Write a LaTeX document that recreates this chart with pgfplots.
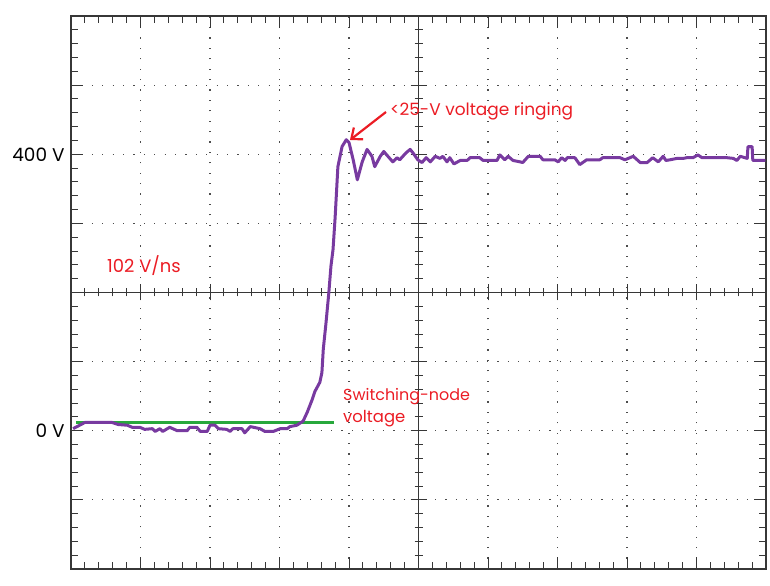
\documentclass[border=0pt]{standalone}
\usepackage{fontspec}
\setmainfont{Poppins}
\usepackage{pgfplots}
\pgfplotsset{compat=1.18}
\usetikzlibrary{arrows.meta}
\definecolor{trace}{RGB}{120,58,160}
\definecolor{grn}{RGB}{40,168,60}
\definecolor{annot}{RGB}{235,28,36}
\definecolor{framec}{RGB}{55,55,55}
\begin{document}
\begin{tikzpicture}[x=1bp,y=1bp]
\path (0,0) rectangle (770,586);
\begin{axis}[
  at={(71bp,17bp)}, anchor=south west,
  scale only axis, width=695bp, height=553bp,
  xmin=0, xmax=10, ymin=-200, ymax=600,
  xtick={0,...,10}, ytick={-200,-100,...,600},
  minor x tick num=4, minor y tick num=4,
  xticklabels={}, yticklabels={{},{},0 V,{},{},{},400 V,{},{}},
  tick align=inside,
  major tick length=12bp, minor tick length=7bp,
  axis line style={framec, line width=2.2bp},
  every tick/.style={framec, line width=0.9bp},
  grid=major,
  major grid style={black!70, line width=1.1bp, dash pattern=on 1.1bp off 9.3bp},
  yticklabel style={font=\fontsize{18.5}{21}\selectfont, text=black, xshift=-3bp},
]
% centre graticule lines
\draw[framec, line width=1.4bp] (axis cs:5,-200) -- (axis cs:5,600);
\draw[framec, line width=1.4bp] (axis cs:0,200) -- (axis cs:10,200);
\pgfplotsinvokeforeach{-180,-160,...,580}{
  \draw[framec, line width=0.9bp] ([xshift=-4bp]axis cs:5,#1) -- ([xshift=4bp]axis cs:5,#1);
}
\pgfplotsinvokeforeach{0.2,0.4,...,9.8}{
  \draw[framec, line width=0.9bp] ([yshift=-4bp]axis cs:#1,200) -- ([yshift=4bp]axis cs:#1,200);
}
\pgfplotsinvokeforeach{-100,0,...,500}{
  \draw[framec, line width=0.9bp] ([xshift=-8bp]axis cs:5,#1) -- ([xshift=8bp]axis cs:5,#1);
}
\pgfplotsinvokeforeach{1,2,...,9}{
  \draw[framec, line width=0.9bp] ([yshift=-8bp]axis cs:#1,200) -- ([yshift=8bp]axis cs:#1,200);
}
% reference level
\addplot[grn, line width=2.8bp] coordinates {(0.07,12) (3.78,12)};
% switching-node voltage trace
\addplot[trace, line width=3bp, line join=round] coordinates {
(0.03,3) (0.20,12) (0.53,12) (0.59,12) (0.68,9) (0.81,8) (0.88,5) (0.99,5)
(1.06,2) (1.17,3) (1.21,-1) (1.28,3) (1.32,-1) (1.42,5) (1.53,0) (1.67,0)
(1.71,5) (1.81,5) (1.86,-1) (1.96,-1) (2.00,8) (2.07,8) (2.12,3) (2.24,2)
(2.29,-1) (2.33,3) (2.46,3) (2.50,-3) (2.58,6) (2.72,3) (2.79,-1) (2.91,-1)
(3.01,3) (3.11,3) (3.15,6) (3.25,8) (3.34,14) (3.40,27) (3.47,45) (3.51,57)
(3.58,70) (3.61,84) (3.63,118) (3.67,157) (3.71,200) (3.74,238) (3.77,262)
(3.80,308) (3.84,382) (3.90,411) (3.96,421) (4.00,417) (4.06,392) (4.12,363)
(4.19,389) (4.26,407) (4.33,397) (4.37,382) (4.45,397) (4.50,404) (4.56,397)
(4.63,389) (4.69,395) (4.73,392) (4.82,402) (4.88,407) (4.92,402) (4.99,392)
(5.05,388) (5.11,395) (5.17,389) (5.24,397) (5.31,394) (5.35,397) (5.41,389)
(5.45,395) (5.51,386) (5.60,391) (5.70,391) (5.74,395) (5.88,395) (5.93,391)
(6.13,391) (6.17,399) (6.24,392) (6.29,397) (6.36,391) (6.46,389) (6.50,388)
(6.58,397) (6.75,397) (6.79,392) (6.96,392) (7.01,389) (7.06,395) (7.11,391)
(7.14,395) (7.25,395) (7.32,385) (7.42,392) (7.61,392) (7.65,395) (7.90,395)
(7.97,392) (8.09,397) (8.19,388) (8.29,388) (8.37,395) (8.45,389) (8.52,397)
(8.56,391) (8.62,392) (8.72,394) (8.81,394) (8.86,395) (8.95,395) (9.02,399)
(9.08,395) (9.34,395) (9.44,395) (9.53,394) (9.58,391) (9.63,397) (9.73,394)
(9.74,411) (9.80,411) (9.81,391) (9.99,391)
};
\end{axis}
% annotations
\node[anchor=base west, inner sep=0, text=annot, font=\fontsize{17}{20}\selectfont] at (390,470) {<25-V voltage ringing};
\draw[annot, line width=2.2bp, -{Straight Barb[length=9bp,width=15bp]}] (386,474) -- (350,446);
\node[anchor=base west, inner sep=0, text=annot, font=\fontsize{18}{20}\selectfont] at (107,313) {102 V/ns};
\node[anchor=base west, inner sep=0, text=annot, font=\fontsize{16}{19}\selectfont] at (343,185) {Switching-node};
\node[anchor=base west, inner sep=0, text=annot, font=\fontsize{16.5}{19}\selectfont] at (343,163) {voltage};
\end{tikzpicture}
\end{document}
